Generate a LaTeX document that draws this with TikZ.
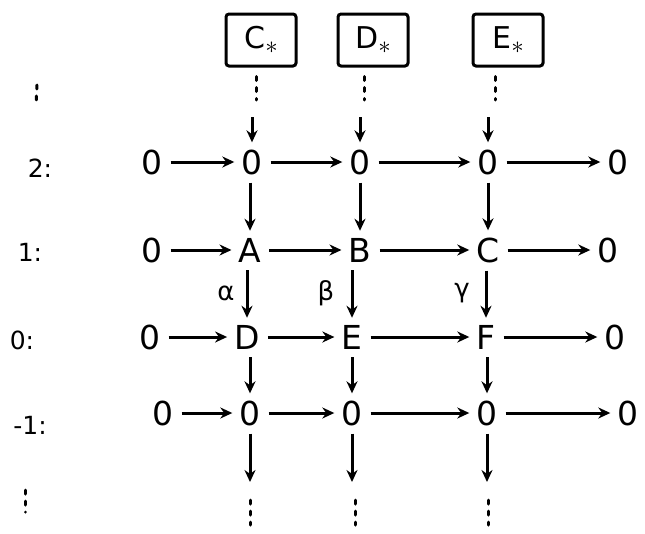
\documentclass[tikz,border=0pt]{standalone}
\usepackage{fontspec}
\setmainfont{DejaVu Sans}
\usetikzlibrary{arrows.meta}
\newcommand{\substar}{\raisebox{-5pt}{\fontsize{26}{26}\selectfont$\ast$}}
\begin{document}
\begin{tikzpicture}[x=1pt,y=-1pt,
  every node/.style={font=\fontsize{33}{37}\selectfont, inner sep=4pt},
  lab/.style={font=\fontsize{25}{29}\selectfont},
  gk/.style={font=\fontsize{26}{30}\selectfont},
  cbox/.style={draw, line width=3pt, rounded corners=3pt, minimum width=70pt, minimum height=52pt, font=\fontsize{30}{34}\selectfont},
  arr/.style={-{Stealth[length=12pt,width=11pt]}, line width=3pt, shorten <=4pt, shorten >=3pt},
  dots/.style={line width=3pt, dash pattern=on 4pt off 7pt, line cap=round}
]
\useasboundingbox (0,0) rectangle (645,533);
% top boxes
\node[cbox] (Cs) at (261,40) {C\substar};
\node[cbox] (Ds) at (373,40) {D\substar};
\node[cbox] (Es) at (508,40) {E\substar};
% row 2
\node (a0) at (152,162) {0};
\node (a1) at (252,162) {0};
\node (a2) at (360,162) {0};
\node (a3) at (488,162) {0};
\node (a4) at (618,162) {0};
% row 1
\node (b0) at (152,250) {0};
\node (A) at (250,250) {A};
\node (B) at (360,250) {B};
\node (C) at (488,250) {C};
\node (b4) at (608,250) {0};
% row 0
\node (c0) at (150,337) {0};
\node (D) at (247,337) {D};
\node (E) at (352,337) {E};
\node (F) at (486,337) {F};
\node (c4) at (615,337) {0};
% row -1
\node (d0) at (163,413) {0};
\node (d1) at (250,413) {0};
\node (d2) at (352,413) {0};
\node (d3) at (487,413) {0};
\node (d4) at (628,413) {0};
% left labels
\node[lab] (l2) at (40,168) {2:};
\node[lab] (l1) at (30,252) {1:};
\node[lab] (l0) at (22,340) {0:};
\node[lab] (lm) at (30,425) {-1:};
\coordinate (lt1) at (37,85); \coordinate (lt2) at (36,106);
\coordinate (lb1) at (25,490); \coordinate (lb2) at (25,512);
\draw[dots] (lt1) -- (lt2);
\draw[dots] (lb1) -- (lb2);
% horizontal arrows
\foreach \u/\v in {a0/a1,a1/a2,a2/a3,a3/a4,b0/A,A/B,B/C,C/b4,c0/D,D/E,E/F,F/c4,d0/d1,d1/d2,d2/d3,d3/d4}
  \draw[arr] (\u) -- (\v);
% vertical arrows
\foreach \u/\v in {a1/A,a2/B,a3/C,A/D,B/E,C/F,D/d1,E/d2,F/d3}
  \draw[arr] (\u.south -| \v) -- (\v);
% from boxes
\coordinate (ct1) at (256,100); \coordinate (ct2) at (252,113);
\coordinate (dt1) at (364,100); \coordinate (dt2) at (360,113);
\coordinate (et1) at (495,100); \coordinate (et2) at (488,113);
\draw[dots] (Cs.south -| ct1) ++(0,9) -- (ct1);
\draw[dots] (Ds.south -| dt1) ++(0,9) -- (dt1);
\draw[dots] (Es.south -| et1) ++(0,9) -- (et1);
\draw[arr] (ct2) -- (a1);
\draw[arr] (dt2) -- (a2);
\draw[arr] (et2) -- (a3);
% bottom
\coordinate (cb1) at (250,485); \coordinate (cb2) at (250,500); \coordinate (cb3) at (250,525);
\coordinate (db1) at (352,485); \coordinate (db2) at (355,500); \coordinate (db3) at (355,525);
\coordinate (eb1) at (487,485); \coordinate (eb2) at (488,500); \coordinate (eb3) at (488,525);
\draw[arr] (d1) -- (cb1);
\draw[arr] (d2) -- (db1);
\draw[arr] (d3) -- (eb1);
\draw[dots] (cb2) -- (cb3);
\draw[dots] (db2) -- (db3);
\draw[dots] (eb2) -- (eb3);
% greek labels
\node[gk] (al) at (226,293) {α};
\node[gk] (be) at (326,293) {β};
\node[gk] (ga) at (462,293) {γ};
\end{tikzpicture}
\end{document}
